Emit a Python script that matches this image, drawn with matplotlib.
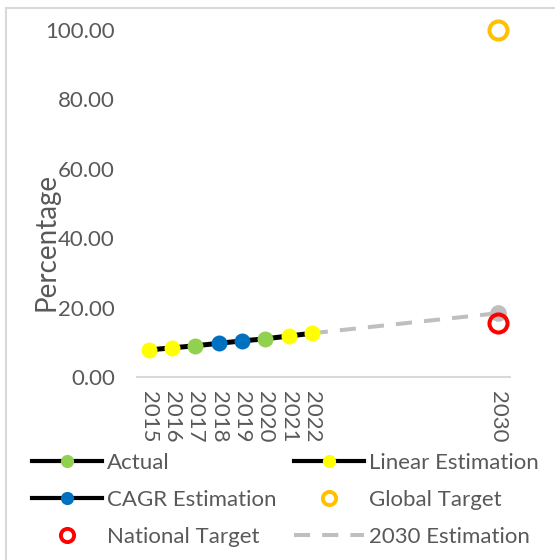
import matplotlib
matplotlib.use("Agg")
import matplotlib.pyplot as plt
from matplotlib.lines import Line2D

plt.rcParams['font.family'] = ['Lato', 'DejaVu Sans']

# ---- data ----
actual_years = [2017, 2020]
actual_vals = [9.0, 11.0]
linear_years = [2015, 2016, 2021, 2022]
linear_vals = [7.8, 8.4, 11.8, 12.6]
cagr_years = [2018, 2019]
cagr_vals = [9.7, 10.4]
est_years = [2022, 2030]
est_vals = [12.6, 18.4]
target_year = 2030
global_target = 100.0
national_target = 15.5
tick_years = [2015, 2016, 2017, 2018, 2019, 2020, 2021, 2022, 2030]
y_ticks = [0, 20, 40, 60, 80, 100]

TXT = '#595959'
GREEN = '#92D050'
YELLOW = '#FFFF00'
BLUE = '#0070C0'
ORANGE = '#FFC000'
RED = '#FF0000'
GREY = '#BFBFBF'
DASH = (0, (4, 3))

fig = plt.figure(figsize=(5.55, 5.60), dpi=100)
ax = fig.add_axes([137/555, 1-377/560, (510-137)/555, (377-30)/560])

# combined trend line through all observed / estimated points
pts = sorted(zip(actual_years + linear_years + cagr_years,
                 actual_vals + linear_vals + cagr_vals))
ax.plot([p[0] for p in pts], [p[1] for p in pts], color='black', lw=3.6,
        zorder=3, solid_capstyle='butt')

# 2030 estimation dashed
ax.plot(est_years, est_vals, color=GREY, lw=2.9, ls=DASH, zorder=2)
ax.plot([est_years[-1]], [est_vals[-1]], 'o', color=GREY, ms=11, zorder=4,
        clip_on=False)

ax.plot(actual_years, actual_vals, 'o', color=GREEN, ms=11.5, mec='none', zorder=5)
ax.plot(linear_years, linear_vals, 'o', color=YELLOW, ms=11.5, mec='none', zorder=5)
ax.plot(cagr_years, cagr_vals, 'o', color=BLUE, ms=11.5, mec='none', zorder=5)

ax.plot([target_year], [global_target], 'o', mfc='none', mec=ORANGE, ms=13,
        mew=2.9, zorder=6, clip_on=False)
ax.plot([target_year], [national_target], 'o', mfc='none', mec=RED, ms=13,
        mew=2.9, zorder=6, clip_on=False)

ax.set_xlim(2014.5, 2030.5)
ax.set_ylim(0, 100)
ax.set_xticks(tick_years)
ax.set_xticklabels([str(y) for y in tick_years], rotation=-90, color=TXT,
                   fontsize=16)
ax.set_yticks(y_ticks)
ax.set_yticklabels([f'{v:.2f}' for v in y_ticks], color=TXT, fontsize=16)
ax.tick_params(axis='both', length=0)
ax.tick_params(axis='y', pad=16)
ax.tick_params(axis='x', pad=10)
for s in ['top', 'right', 'left']:
    ax.spines[s].set_visible(False)
ax.spines['bottom'].set_color('#D9D9D9')
ax.spines['bottom'].set_linewidth(1.5)
ax.set_ylabel('Percentage', color=TXT, fontsize=20)
ax.yaxis.set_label_coords(-(137-59)/373, (377-242)/347)

# legend
handles = [
    Line2D([], [], color='black', lw=3, marker='o', mfc=GREEN, mec='none', ms=9.5),
    Line2D([], [], color='black', lw=3, marker='o', mfc=BLUE, mec='none', ms=9.5),
    Line2D([], [], ls='none', marker='o', mfc='none', mec=RED, ms=9.5, mew=2.8),
    Line2D([], [], color='black', lw=3, marker='o', mfc=YELLOW, mec='none', ms=9.5),
    Line2D([], [], ls='none', marker='o', mfc='none', mec=ORANGE, ms=9.5, mew=2.8),
    Line2D([], [], color=GREY, lw=2.9, ls=DASH),
]
labels = ['Actual', 'CAGR Estimation', 'National Target',
          'Linear Estimation', 'Global Target', '2030 Estimation']
leg = fig.legend(handles, labels, ncol=2, loc='upper left',
                 bbox_to_anchor=(32/555, 1-453/560), frameon=False,
                 borderaxespad=0, borderpad=0,
                 fontsize=16, handlelength=3.15, handletextpad=0.23,
                 columnspacing=0.78, labelspacing=0.76)
for t in leg.get_texts():
    t.set_color(TXT)

# chart border (top and left visible)
fig.add_artist(Line2D([6/555, 1], [1-8/560, 1-8/560], transform=fig.transFigure,
                      color='#D9D9D9', lw=1.5))
fig.add_artist(Line2D([6/555, 6/555], [0, 1-8/560], transform=fig.transFigure,
                      color='#D9D9D9', lw=1.5))

fig.savefig('out.png', dpi=100, facecolor='white')
